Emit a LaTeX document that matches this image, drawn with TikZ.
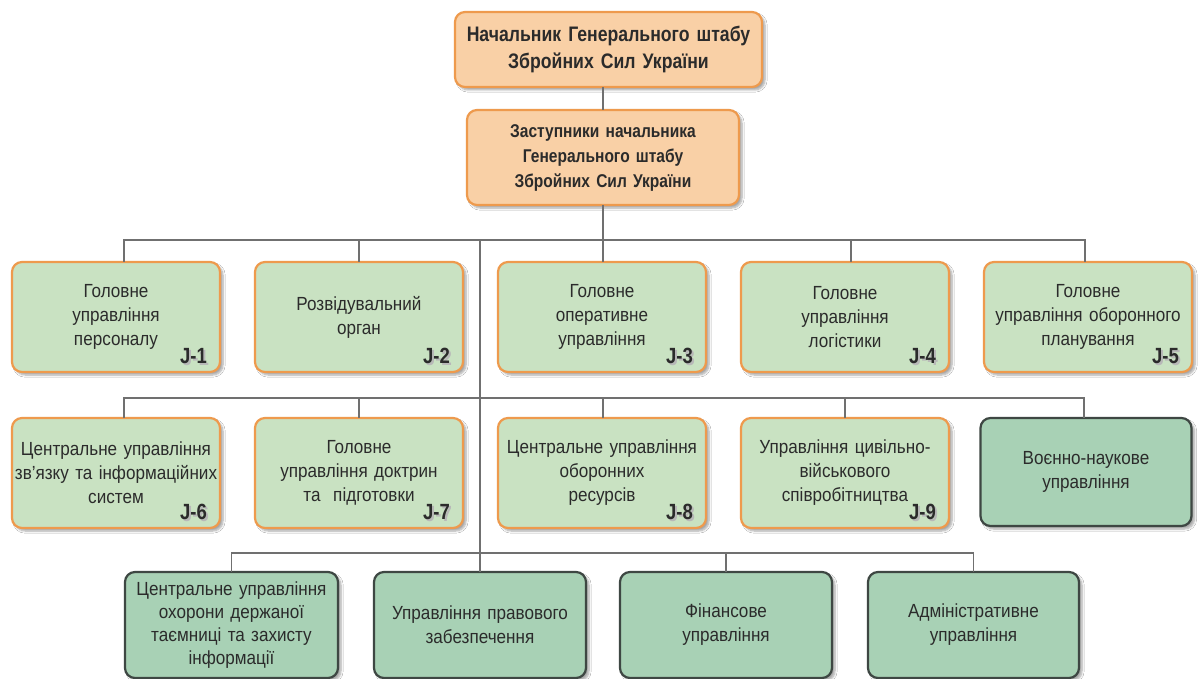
\documentclass[tikz,border=0pt]{standalone}
\usepackage{fontspec}
\setmainfont{Liberation Sans}[FakeStretch=0.9]
\newfontfamily\headfont{Liberation Sans}[FakeStretch=0.84]
\usetikzlibrary{shadows.blur}

\definecolor{orfill}{HTML}{F9D0A6}
\definecolor{orline}{HTML}{EE9A4D}
\definecolor{grfill}{HTML}{C9E2C2}
\definecolor{dkfill}{HTML}{A8D1B5}
\definecolor{dkline}{HTML}{3E4743}
\definecolor{lncol}{HTML}{707070}
\definecolor{txt}{HTML}{2B2B2B}

\tikzset{
  box/.style={rounded corners=10pt, line width=2.2pt, inner sep=0pt, outer sep=0pt, align=center,
    blur shadow={shadow xshift=3pt, shadow yshift=-3pt, shadow opacity=35, shadow blur steps=6}},
  headbox/.style={box, draw=orline, fill=orfill, text=txt},
  jbox/.style={box, draw=orline, fill=grfill, text=txt,
    font={\fontsize{19}{24}\selectfont}},
  dbox/.style={box, draw=dkline, fill=dkfill, text=txt,
    font={\fontsize{19}{24}\selectfont}},
  conn/.style={draw=lncol, line width=1.8pt},
  jlab/.style={font={\headfont\bfseries\fontsize{22}{22}\selectfont}, anchor=base east,
    inner sep=0pt, text=txt},
  jshade/.style={jlab, text=black!28},
}

\begin{document}
\begin{tikzpicture}[x=1pt, y=-1pt]
\useasboundingbox (0,0) rectangle (1200,679);
\fill[white] (0,0) rectangle (1200,679);

\coordinate (bus1) at (0,240);
\coordinate (bus2) at (0,398);
\coordinate (bus3) at (0,553);
\coordinate (t) at (480,240);

% top levels
\node[headbox, minimum width=307pt, minimum height=75pt, text width=300pt,
  font={\headfont\bfseries\fontsize{21}{27}\selectfont}] (top) at (608.5,49.5)
  {Начальник Генерального штабу\\Збройних Сил України};
\node[headbox, minimum width=272pt, minimum height=95pt, text width=266pt,
  font={\headfont\bfseries\fontsize{18.5}{25}\selectfont}] (dep) at (603,157.5)
  {Заступники начальника\\Генерального штабу\\Збройних Сил України};

% row 1
\node[jbox, minimum width=208pt, minimum height=110pt, text width=204pt] (j1) at (116,317) {Головне\\управління\\персоналу};
\node[jbox, minimum width=208pt, minimum height=110pt, text width=204pt] (j2) at (359,317) {Розвідувальний\\орган};
\node[jbox, minimum width=208pt, minimum height=110pt, text width=204pt] (j3) at (602,317) {Головне\\оперативне\\управління};
\node[jbox, minimum width=208pt, minimum height=110pt, text width=204pt] (j4) at (845,317) {Головне\\управління\\логістики};
\node[jbox, minimum width=208pt, minimum height=110pt, text width=206pt] (j5) at (1088,317) {Головне\\управління оборонного\\планування};

% row 2
\node[jbox, minimum width=208pt, minimum height=110pt, text width=206pt] (j6) at (116,473) {Центральне управління\\зв’язку та інформаційних\\систем};
\node[jbox, minimum width=208pt, minimum height=110pt, text width=204pt] (j7) at (359,473) {Головне\\управління доктрин\\та~ підготовки};
\node[jbox, minimum width=208pt, minimum height=110pt, text width=204pt] (j8) at (602,473) {Центральне управління\\оборонних\\ресурсів};
\node[jbox, minimum width=208pt, minimum height=110pt, text width=204pt] (j9) at (845,473) {Управління цивільно-\\військового\\співробітництва};
\node[dbox, minimum width=211pt, minimum height=108pt, text width=204pt] (vn) at (1086,472) {Воєнно-наукове\\управління};

% row 3
\node[dbox, minimum width=213pt, minimum height=106pt, text width=208pt,
  font={\fontsize{19}{23}\selectfont}] (r3a) at (231.5,625) {Центральне управління\\охорони держаної\\таємниці та захисту\\інформації};
\node[dbox, minimum width=212pt, minimum height=106pt, text width=208pt] (r3b) at (480,625) {Управління правового\\забезпечення};
\node[dbox, minimum width=212pt, minimum height=106pt, text width=208pt] (r3c) at (726,625) {Фінансове\\управління};
\node[dbox, minimum width=211pt, minimum height=106pt, text width=208pt] (r3d) at (973.5,625) {Адміністративне\\управління};

% J labels
\foreach \n/\l in {j1/J-1,j2/J-2,j3/J-3,j4/J-4,j5/J-5,j6/J-6,j7/J-7,j8/J-8,j9/J-9}{
  \node[jshade] (\n s) at ([xshift=-11pt,yshift=7pt]\n.south east) {\l};
  \node[jlab] (\n l) at ([xshift=-13pt,yshift=9pt]\n.south east) {\l};
}

% connectors
\draw[conn] (dep.north) -- (dep.north |- top.south);
\draw[conn] (dep.south) -- (dep.south |- bus1);
\draw[conn] ([xshift=8pt]j1.north) |- (dep.south |- bus1);
\draw[conn] (j2.north) |- (dep.south |- bus1);
\draw[conn] ([xshift=1pt]j3.north) -- ([xshift=1pt]j3.north |- bus1);
\draw[conn] ([xshift=6pt]j4.north) |- (dep.south |- bus1);
\draw[conn] ([xshift=-3pt]j5.north) |- (dep.south |- bus1);
\draw[conn] (t) -- (t |- r3b.north);
\draw[conn] ([xshift=8pt]j6.north) |- (t |- bus2);
\draw[conn] (j7.north) |- (t |- bus2);
\draw[conn] ([xshift=1pt]j8.north) |- (t |- bus2);
\draw[conn] (j9.north) |- (t |- bus2);
\draw[conn] ([xshift=-2pt]vn.north) |- (t |- bus2);
\draw[conn] (r3a.north) |- (t |- bus3);
\draw[conn] (r3c.north) |- (t |- bus3);
\draw[conn] (r3d.north) |- (t |- bus3);
\end{tikzpicture}
\end{document}
